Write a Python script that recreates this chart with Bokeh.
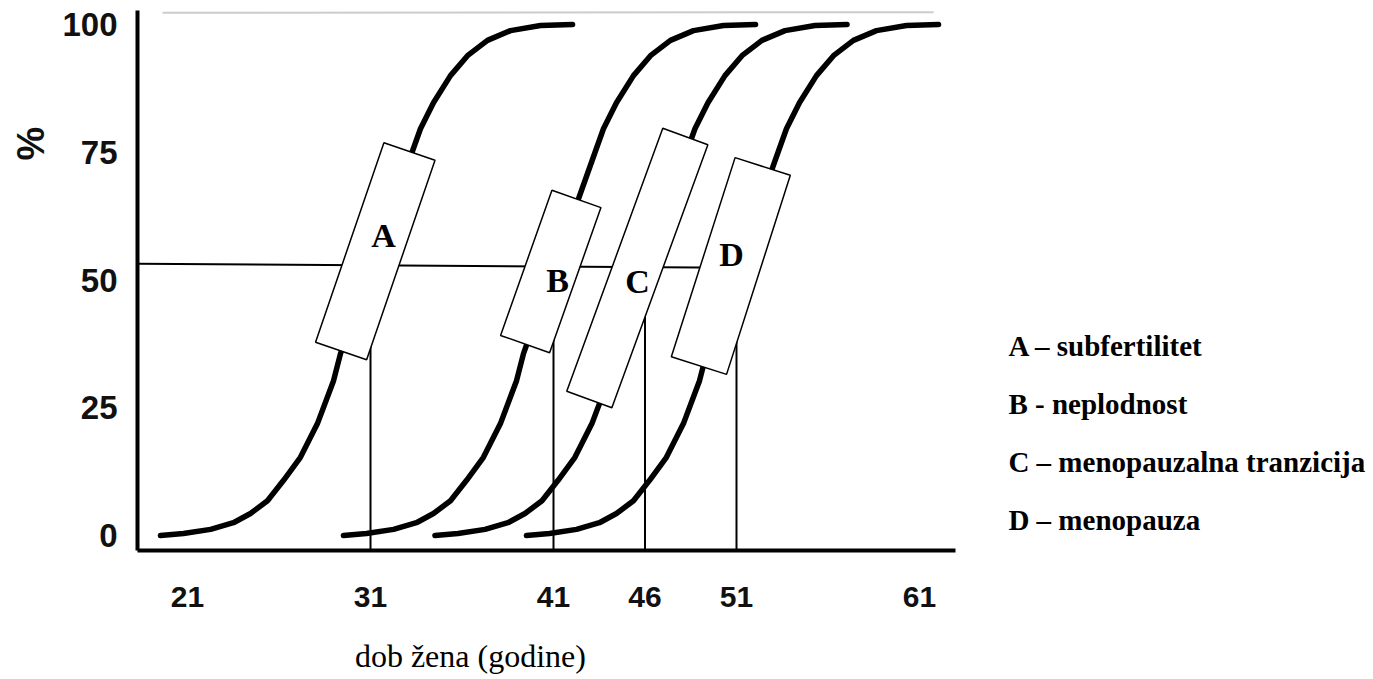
import math
from bokeh.plotting import figure
from bokeh.models import Range1d, FixedTicker
from bokeh.core.properties import value
from bokeh.embed import file_html
from bokeh.resources import INLINE

# ---------------- data ----------------
age_ticks = [21, 31, 41, 46, 51, 61]
pct_ticks = [0, 25, 50, 75, 100]

curve_a_age = [19.52, 20.78, 22.26, 23.51, 24.44, 25.37, 26.25, 27.17, 28.10, 28.98,
               29.36, 33.30, 33.73, 34.44, 35.37, 36.30, 37.39, 38.65, 40.29, 42.04]
curve_b_age = [29.52, 30.78, 32.26, 33.51, 34.44, 35.37, 36.25, 37.17, 38.10, 38.98,
               39.36, 43.30, 43.73, 44.44, 45.37, 46.30, 47.39, 48.65, 50.29, 52.04]
curve_c_age = [34.52, 35.78, 37.26, 38.51, 39.44, 40.37, 41.25, 42.17, 43.10, 43.98,
               44.36, 48.30, 48.73, 49.44, 50.37, 51.30, 52.39, 53.65, 55.29, 57.04]
curve_d_age = [39.52, 40.78, 42.26, 43.51, 44.44, 45.37, 46.25, 47.17, 48.10, 48.98,
               49.36, 53.30, 53.73, 54.44, 55.37, 56.30, 57.39, 58.65, 60.29, 62.04]
curve_pct = [0, 0.4, 1.2, 2.5, 4.3, 6.8, 10.8, 15.3, 21.9, 30.3,
             35.6, 75.3, 79.6, 84.7, 90.0, 93.9, 96.9, 98.8, 99.8, 100]

level_age = [18.27, 51.0]
level_pct = [53.2, 52.4]

marker_ages = [31, 41, 46, 51]
marker_top = [53.0, 52.8, 52.6, 52.4]

top_line_age = [19.63, 61.77]
top_line_pct = [102.3, 102.4]

box_letters = ["A", "B", "C", "D"]
box_age = [31.26, 40.85, 45.58, 50.69]
box_pct = [55.63, 51.66, 52.35, 52.74]
letter_age = [31.71, 41.22, 45.59, 50.73]
letter_pct = [58.7, 49.9, 49.7, 55.0]

legend_text = ["A \u2013 subfertilitet", "B - neplodnost",
               "C \u2013 menopauzalna tranzicija", "D \u2013 menopauza"]
x_title = "dob \u017eena (godine)"
y_title = "%"

# ---------------- layout / style ----------------
box_w_px = [54, 52, 48, 58]
box_h_px = [211, 154, 280, 209]
box_angle = [-0.33, -0.34, -0.35, -0.31]

# chart area (axis extents)
ax_x0, ax_x1 = 18.27, 62.97
ax_y0, ax_y1 = -2.94, 102.74
# whole canvas
view_x = (10.78, 85.81)
view_y = (-28.18, 104.70)

p = figure(width=1373, height=679,
           x_range=Range1d(*view_x), y_range=Range1d(*view_y),
           output_backend="svg", toolbar_location=None,
           min_border=0)
p.outline_line_color = None
p.grid.visible = False
p.background_fill_color = "white"
p.border_fill_color = "white"

for ax in (p.xaxis[0], p.yaxis[0]):
    ax.axis_line_width = 4
    ax.axis_line_color = "black"
    ax.major_tick_in = 0
    ax.major_tick_out = 0
    ax.minor_tick_in = 0
    ax.minor_tick_out = 0
    ax.major_label_text_font = "Liberation Sans"
    ax.major_label_text_font_style = "bold"
    ax.major_label_text_color = "#111111"

p.xaxis.ticker = FixedTicker(ticks=age_ticks)
p.xaxis.fixed_location = ax_y0
p.xaxis.bounds = (ax_x0, ax_x1)
p.xaxis.major_label_text_font_size = "30px"
p.xaxis.major_label_standoff = 36

p.yaxis.ticker = FixedTicker(ticks=pct_ticks)
p.yaxis.fixed_location = ax_x0
p.yaxis.bounds = (ax_y0, ax_y1)
p.yaxis.major_label_text_font_size = "33px"
p.yaxis.major_label_standoff = 20

# faint top rule
p.line(top_line_age, top_line_pct, line_color="#cccccc", line_width=2)
# 50 % level and vertical markers
p.line(level_age, level_pct, line_color="black", line_width=2)
p.segment(x0=marker_ages, y0=[ax_y0] * len(marker_ages), x1=marker_ages, y1=marker_top,
          line_color="black", line_width=2)
# curves
for ages in (curve_a_age, curve_b_age, curve_c_age, curve_d_age):
    p.line(ages, curve_pct, line_color="black", line_width=5.5,
           line_cap="round", line_join="round")

# boxes
p.rect(x=box_age, y=box_pct, width=box_w_px, height=box_h_px, angle=box_angle,
       width_units="screen", height_units="screen",
       fill_color="white", line_color="black", line_width=1.5)
p.text(x=letter_age, y=letter_pct, text=box_letters,
       text_font=value("Liberation Serif"), text_font_style="bold",
       text_font_size=value("34px"), text_align="center", text_baseline="middle",
       text_color="black")

# legend texts on the right
legend_age = [65.86] * 4
legend_pct = [37.18, 25.83, 14.29, 2.94]
p.text(x=legend_age, y=legend_pct, text=legend_text,
       text_font=value("Liberation Serif"), text_font_style="bold",
       text_font_size=value("29px"), text_align="left", text_baseline="alphabetic",
       text_color="black")

# axis titles
p.text(x=[36.46], y=[-23.5], text=[x_title],
       text_font=value("Liberation Serif"), text_font_size=value("32px"),
       text_align="center", text_baseline="alphabetic", text_color="black")
p.text(x=[12.42], y=[76.7], text=[y_title], angle=math.pi / 2,
       text_font=value("Liberation Sans"), text_font_style="bold",
       text_font_size=value("38px"), text_align="center", text_baseline="middle",
       text_color="#111111")

open("out.html", "w").write(file_html(p, INLINE))
